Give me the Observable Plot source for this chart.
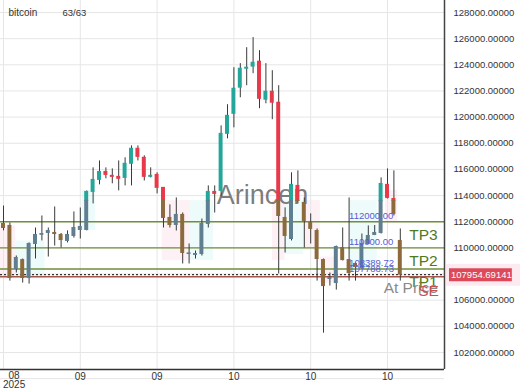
<!DOCTYPE html>
<html><head><meta charset="utf-8">
<script src="https://cdn.jsdelivr.net/npm/d3@7"></script>
<script src="https://cdn.jsdelivr.net/npm/@observablehq/plot@0.6"></script>
<style>
body{margin:0;background:#fff;}
#chart{width:520px;height:390px;}
</style></head><body><div id="chart"></div>
<script>
// ---- data ----
const opens  = [111830,111680,108380,109070,107700,110300,111000,111140,111140,110990,110530,110910,111370,111370,114280,115200,115810,115510,115430,115350,116430,117580,116890,115430,115580,114590,112290,111750,112520,109530,109460,109530,111830,114280,114360,118720,120250,122250,123700,123860,124240,121330,121940,121100,112290,110680,114740,113440,111900,111290,109070,107620,107310,109990,109070,108770,108460,110300,110990,111140,114820,113740,110530];
const highs  = [113200,111900,109380,109150,110380,111520,112440,111520,113130,111100,111300,112750,113050,114350,116120,116650,116120,116040,116650,116890,117800,117800,117040,116120,115740,114600,113290,113820,112670,110300,109760,112210,114740,114740,119330,120950,123780,124090,125310,126080,125080,124090,123550,122400,113060,115740,115890,113820,112600,111450,109150,108080,110140,111520,113820,108840,111060,111680,111710,115350,116040,115890,111450];
const lows   = [111300,107460,108080,107310,107230,109150,110530,109300,110140,109990,110380,110750,110680,111300,113360,114820,115280,114900,114360,114740,114740,116650,115120,115350,114130,111520,111520,111290,108770,108770,109150,109380,111520,112670,113900,118340,119180,121480,122400,123320,120640,121020,119800,108000,109610,110530,113360,109990,110300,107460,103480,107080,106770,109000,107460,107460,108380,110300,110940,111060,113740,112440,107460];
const closes = [111520,107700,109230,107700,110300,110990,111060,111290,111060,110600,110990,111520,111600,114280,115200,115810,115580,115430,115280,116430,117580,116960,115430,115510,114590,112290,111750,112520,109610,109580,109530,111830,114280,114130,118720,120100,122170,123700,123780,124160,121400,121940,121100,112440,110910,114820,113590,112060,111450,109150,107080,107700,110070,109070,108080,108530,110300,110910,111140,114890,113820,112600,107954.69];

const symbol = "bitcoin";
const counter = "63/63";
const watermark = "Arincen";
const currentPrice = 107954.69;
const currentPriceText = "107954.69141";

const yTicks = [102000,104000,106000,108000,110000,112000,114000,116000,118000,120000,122000,124000,126000,128000];
const xTickIdx = [0,12,24,36,48,60];
const xTickLabels = ["08\n2025","09","09","10","10","10"];

const levelValues = [112000, 110000, 108389.72];
const levelNames  = ["TP3","TP2","TP1"];
const levelTexts  = ["112000.00","110000.00","108389.72"];
const seValue = 107788.73;
const seText = "107788.73";

// faint zone boxes: [startIndex, endIndex, lowPrice, highPrice, kind]
const zoneX1 = [-0.5, 1.9, 12.3, 24.8, 29.2, 42.0, 44.0, 46.9, 49.5, 54.2, 59.7];
const zoneX2 = [ 1.9, 6.5, 14.4, 29.2, 32.8, 44.0, 46.9, 49.5, 52.2, 58.4, 61.6];
const zoneLo = [107620,107620,111330,109030,109030,109030,109500,109800,107300,108500,111930];
const zoneHi = [111680,110530,114390,113620,113620,113620,113620,113620,109300,113620,114390];
const zoneKind = ["p","c","c","p","c","p","c","p","p","c","p"];

// ---- styling ----
const teal = "#26a69a", red = "#e8394b", slate = "#5f7f90", brown = "#8c6a3c";
const T = 113600; // below this the bodies appear tinted
const bw = 0.31;

const idx = d3.range(opens.length);
const segs = [];
idx.forEach(i => {
  const o = opens[i], c = closes[i], up = c >= o;
  const lo = Math.min(o, c), hi = Math.max(o, c);
  if (hi > T) segs.push({i, y1: Math.max(lo, T), y2: hi, fill: up ? teal : red});
  if (lo < T) segs.push({i, y1: lo, y2: Math.min(hi, T), fill: up ? slate : brown});
});
const zones = zoneX1.map((x, k) => ({x1: x, x2: zoneX2[k], y1: zoneLo[k], y2: zoneHi[k], fill: zoneKind[k] === "p" ? "#fde6ef" : "#e0f7f7"}));

const xDomain = [-0.469, 68.906];
const yDomain = [100700, 128918];
const font = "Liberation Sans, Arial, sans-serif";
const fs = 9.5;

const chart = Plot.plot({
  width: 520, height: 390,
  marginLeft: 0, marginRight: 76, marginTop: 0, marginBottom: 21,
  x: {domain: xDomain, axis: null},
  y: {domain: yDomain, axis: null},
  color: {type: "identity"},
  style: {fontFamily: font, fontSize: fs + "px", color: "#333", background: "#fff", overflow: "visible"},
  marks: [
    Plot.rect(zones, {x1: "x1", x2: "x2", y1: "y1", y2: "y2", fill: "fill", fillOpacity: 0.55}),
    Plot.ruleY(yTicks.concat([100000]), {stroke: "#e6e6e6", strokeWidth: 1}),
    Plot.ruleX(xTickIdx, {stroke: "#e6e6e6", strokeWidth: 1}),
    Plot.text([watermark], {frameAnchor: "middle", dx: 40, dy: 10, fontSize: 27, fill: "#666", fillOpacity: 0.85, fontWeight: 300}),
    Plot.ruleY(levelValues, {stroke: "#6e8f3c", strokeWidth: 1.4}),
    Plot.ruleY([seValue], {stroke: "#a2564c", strokeWidth: 1.6}),
    Plot.ruleY([currentPrice], {stroke: "#333", strokeWidth: 1.2, strokeDasharray: "2,2"}),
    Plot.ruleX(idx, {x: i => i, y1: i => lows[i], y2: i => highs[i], stroke: "#3a3a3a", strokeWidth: 1}),
    Plot.rect(segs, {x1: d => d.i - bw, x2: d => d.i + bw, y1: "y1", y2: "y2", fill: "fill", insetTop: -0.5, insetBottom: -0.5}),
    Plot.text(levelTexts, {x: 54, y: (d, k) => levelValues[k], text: d => d, textAnchor: "start", dy: -5.5, fill: "#5a5ad2", fontSize: fs}),
    Plot.text([seText], {x: 54, y: [seValue], text: d => d, textAnchor: "start", dy: -7.5, fill: "#5a5ad2", fontSize: fs}),
    Plot.text(levelNames, {x: 63.4, y: (d, k) => levelValues[k], text: d => d, textAnchor: "start", dy: 13, fill: "#4f7a1c", fontSize: 15.5}),
    Plot.text(["At Price"], {x: 59.4, y: [currentPrice], text: d => d, textAnchor: "start", dy: 13.5, fill: "#8a8a8a", fontSize: 15.5}),
    Plot.text(["SE"], {x: 64.8, y: [seValue], text: d => d, textAnchor: "start", dy: 14.5, fill: "#c85050", fontSize: 15.5}),
    Plot.ruleY([yDomain[0]], {stroke: "#333", strokeWidth: 1.5}),
    Plot.ruleX([xDomain[1]], {stroke: "#444", strokeWidth: 1.5}),
    // the 108000 label sits under the current-price tag, so it is not drawn
    Plot.axisY(yTicks.filter(t => Math.abs(t - currentPrice) > 1000), {anchor: "right", tickSize: 0, tickPadding: 9, tickFormat: d => d.toFixed(5), label: null, fill: "#333", fontSize: fs}),
    // current price tag on the right axis
    Plot.ruleY([currentPrice], {x1: xDomain[1] + 0.3, x2: xDomain[1] + 12, stroke: "#fdeaf0", strokeWidth: 22}),
    Plot.ruleY([currentPrice], {x1: xDomain[1] + 0.78, x2: xDomain[1] + 10.6, stroke: "#dc4a5a", strokeWidth: 13}),
    Plot.text([currentPriceText], {y: () => currentPrice, frameAnchor: "right", dx: 6.5, textAnchor: "start", fill: "#fff", fontSize: fs}),
    Plot.text(xTickIdx.slice(1), {x: d => d, frameAnchor: "bottom", text: (d, k) => xTickLabels[k + 1], dy: 3, lineAnchor: "top", fill: "#333", fontSize: fs + 0.5}),
    Plot.text([xTickIdx[0]], {x: d => d, frameAnchor: "bottom", text: () => xTickLabels[0], dy: 3, dx: 10.6, lineAnchor: "top", lineHeight: 0.9, fill: "#333", fontSize: fs + 0.5}),
    Plot.text([symbol], {frameAnchor: "top-left", dx: 8, dy: 12, textAnchor: "start", lineAnchor: "middle", fill: "#333", fontSize: fs + 0.5}),
    Plot.text([counter], {frameAnchor: "top-left", dx: 62, dy: 12, textAnchor: "start", lineAnchor: "middle", fill: "#333", fontSize: fs})
  ]
});

document.getElementById("chart").appendChild(chart);
</script></body></html>
